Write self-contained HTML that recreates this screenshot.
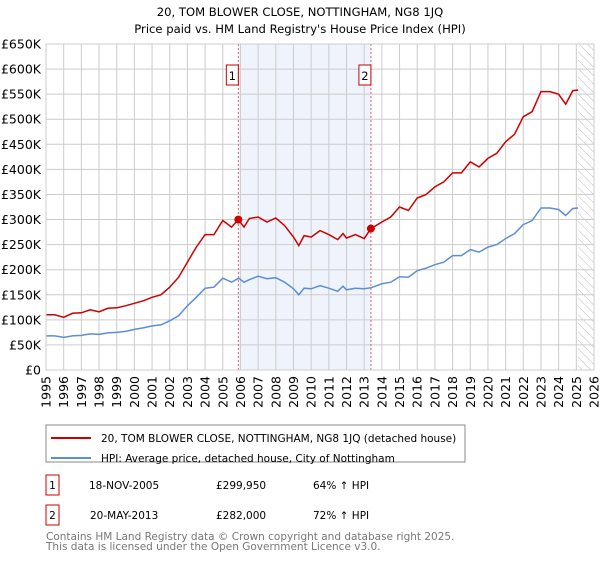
<!DOCTYPE html>
<html><head><meta charset="utf-8"><style>
body{margin:0;background:#fff;font-family:"DejaVu Sans","Liberation Sans",sans-serif;}
svg text{font-family:"DejaVu Sans","Liberation Sans",sans-serif;}
</style></head><body>
<svg id="c" width="600" height="560" xmlns="http://www.w3.org/2000/svg">
<defs><pattern id="hatch" width="6" height="6" patternUnits="userSpaceOnUse" patternTransform="rotate(-45)"><line x1="0" y1="0" x2="0" y2="6" stroke="#bbb" stroke-width="1"/></pattern></defs>
<text x="300" y="16" text-anchor="middle" font-size="11.6">20, TOM BLOWER CLOSE, NOTTINGHAM, NG8 1JQ</text>
<text x="300" y="33" text-anchor="middle" font-size="11.6">Price paid vs. HM Land Registry's House Price Index (HPI)</text>
<g id="plot"></g>
<rect x="46" y="425" width="419" height="37" fill="#fff" stroke="#888"/>
<line x1="51" y1="438" x2="91" y2="438" stroke="#cc0000" stroke-width="2"/>
<text x="101" y="442" font-size="10.5">20, TOM BLOWER CLOSE, NOTTINGHAM, NG8 1JQ (detached house)</text>
<line x1="51" y1="458" x2="91" y2="458" stroke="#5b8fd4" stroke-width="2"/>
<text x="101" y="462" font-size="10.5">HPI: Average price, detached house, City of Nottingham</text>
<rect x="46" y="475" width="13" height="20" fill="#fff" stroke="#cc0000"/>
<text x="52.5" y="489" font-size="10.5" text-anchor="middle">1</text>
<text x="89" y="489" font-size="10.5">18-NOV-2005</text>
<text x="216" y="489" font-size="10.5">£299,950</text>
<text x="313" y="489" font-size="10.5">64% ↑ HPI</text>
<rect x="46" y="505" width="13" height="20" fill="#fff" stroke="#cc0000"/>
<text x="52.5" y="519" font-size="10.5" text-anchor="middle">2</text>
<text x="90" y="519" font-size="10.5">20-MAY-2013</text>
<text x="216" y="519" font-size="10.5">£282,000</text>
<text x="313" y="519" font-size="10.5">72% ↑ HPI</text>
<text x="46" y="540" font-size="10.5" fill="#777">Contains HM Land Registry data © Crown copyright and database right 2025.</text>
<text x="46" y="550" font-size="10.5" fill="#777">This data is licensed under the Open Government Licence v3.0.</text>
</svg>
<script>
const hpiYears=[1995,1995.5,1996,1996.5,1997,1997.5,1998,1998.5,1999,1999.5,2000,2000.5,2001,2001.5,2002,2002.5,2003,2003.5,2004,2004.5,2005,2005.5,2005.9,2006.2,2006.5,2007,2007.5,2008,2008.5,2009,2009.3,2009.6,2010,2010.5,2011,2011.5,2011.8,2012,2012.5,2013,2013.4,2014,2014.5,2015,2015.5,2016,2016.5,2017,2017.5,2018,2018.5,2019,2019.5,2020,2020.5,2021,2021.5,2022,2022.5,2023,2023.5,2024,2024.4,2024.8,2025.1];
const hpiValues=[68,68,65,68,69,72,71,74,75,77,81,84,88,90,98,108,128,145,163,165,183,175,183,175,180,187,182,184,175,162,150,163,162,168,163,157,167,160,163,162,164,172,175,186,185,198,203,210,215,228,228,240,235,245,250,262,272,290,298,323,323,320,308,322,323];
const propYears=[1995,1995.5,1996,1996.5,1997,1997.5,1998,1998.5,1999,1999.5,2000,2000.5,2001,2001.5,2002,2002.5,2003,2003.5,2004,2004.5,2005,2005.5,2005.88,2006.2,2006.5,2007,2007.5,2008,2008.5,2009,2009.3,2009.6,2010,2010.5,2011,2011.5,2011.8,2012,2012.5,2013,2013.38,2014,2014.5,2015,2015.5,2016,2016.5,2017,2017.5,2018,2018.5,2019,2019.5,2020,2020.5,2021,2021.5,2022,2022.5,2023,2023.5,2024,2024.4,2024.8,2025.1];
const propValues=[110,110,105,113,114,120,116,123,124,128,133,138,145,150,165,185,215,245,270,270,298,285,300,285,302,305,295,303,288,265,248,268,265,278,270,260,272,263,270,262,282,295,305,325,318,343,350,365,375,393,393,415,405,422,432,455,470,505,515,555,555,550,530,557,558];
const saleYears=[2005.88,2013.38];
const saleValues=[299.95,282];
const saleLabels=["1","2"];
const yTicks=[0,50,100,150,200,250,300,350,400,450,500,550,600,650];
const xTicks=[1995,1996,1997,1998,1999,2000,2001,2002,2003,2004,2005,2006,2007,2008,2009,2010,2011,2012,2013,2014,2015,2016,2017,2018,2019,2020,2021,2022,2023,2024,2025,2026];
const X0=46,X1=594,Y0=370,Y1=44;
const xs=y=>X0+(y-1995)/(2026-1995)*(X1-X0);
const ys=v=>Y0-v/650*(Y0-Y1);
const NS="http://www.w3.org/2000/svg";
const g=document.getElementById('plot');
function mk(t,a){const e=document.createElementNS(NS,t);for(const k in a)e.setAttribute(k,a[k]);g.appendChild(e);return e;}
let e=mk('rect',{x:xs(saleYears[0]),y:Y1,width:xs(saleYears[1])-xs(saleYears[0]),height:Y0-Y1,fill:'#eef3fc'});


e=mk('rect',{x:xs(2025.1),y:Y1,width:X1-xs(2025.1),height:Y0-Y1,fill:'url(#hatch)'});


yTicks.forEach(v=>{
 let l=mk('line',{x1:X0,x2:X1,y1:ys(v),y2:ys(v),stroke:'#ccc'});
 
 
 let t=mk('text',{x:X0-5,y:ys(v)+4.5,'text-anchor':'end','font-size':'12.5'});
 t.textContent=v===0?'£0':'£'+v+'K';
 
 
});
xTicks.forEach(y=>{
 let l=mk('line',{x1:xs(y),x2:xs(y),y1:Y1,y2:Y0,stroke:'#ccc'});
 
 
 let t=mk('text',{x:0,y:0,'text-anchor':'end','font-size':'12.5',transform:`translate(${xs(y)+4.5},${Y0+6}) rotate(-90)`});
 t.textContent=y;
 
 
});
saleYears.forEach((y,i)=>{
 let l=mk('line',{x1:xs(y),x2:xs(y),y1:Y1,y2:Y0,stroke:'#e06060','stroke-dasharray':'2,2'});
 
 
 let r=mk('rect',{x:xs(y)-12,y:65,width:12,height:20,fill:'#fff',stroke:'#cc0000'});
 
 
 let t=mk('text',{x:xs(y)-6,y:80,'text-anchor':'middle','font-size':'11.5'});
 t.textContent=saleLabels[i];
 
 
});
const pts=(xa,va)=>xa.map((x,i)=>xs(x).toFixed(1)+','+ys(va[i]).toFixed(1)).join(' ');
e=mk('polyline',{points:pts(hpiYears,hpiValues),fill:'none',stroke:'#5b8fd4','stroke-width':1.5});


e=mk('polyline',{points:pts(propYears,propValues),fill:'none',stroke:'#cc0000','stroke-width':1.5});


saleYears.forEach((y,i)=>{
 let c=mk('circle',{cx:xs(y),cy:ys(saleValues[i]),r:4,fill:'#cc0000'});
 
 
});
e=mk('rect',{x:X0,y:Y1,width:X1-X0,height:Y0-Y1,fill:'none',stroke:'#ccc'});


</script>
</body></html>
